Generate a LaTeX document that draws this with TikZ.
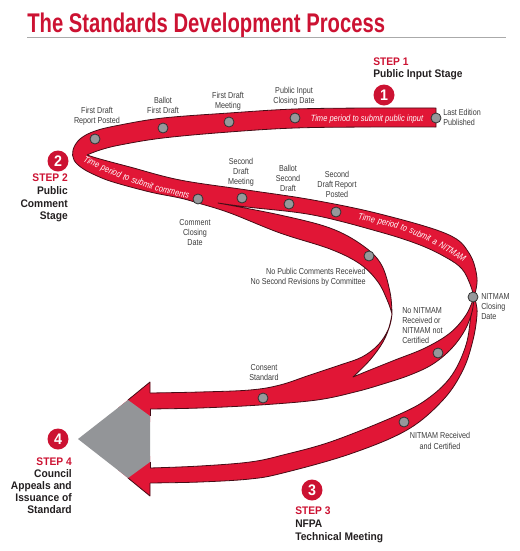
\documentclass[tikz,border=0pt]{standalone}
\usepackage{fontspec}
\setmainfont{Liberation Sans}
\newfontfamily\labfont{Liberation Sans}[FakeStretch=0.83]
\newfontfamily\stepfont{Liberation Sans}[FakeStretch=0.93]
\newfontfamily\titlefont{Liberation Sans}[FakeStretch=0.75]
\definecolor{titlered}{RGB}{204,18,50}
\definecolor{ribred}{RGB}{225,22,54}
\definecolor{ribline}{RGB}{70,12,22}
\definecolor{dotgray}{RGB}{150,152,155}
\definecolor{dotline}{RGB}{50,50,50}
\definecolor{trigray}{RGB}{147,149,152}
\definecolor{labtext}{RGB}{60,60,60}
\definecolor{steptext}{RGB}{35,31,32}
\definecolor{rulegray}{RGB}{170,170,170}
\newcommand\rtfont{\labfont\itshape\fontsize{6.8}{8}\selectfont}
\begin{document}
\begin{tikzpicture}[x=0.75pt,y=0.75pt,
  rib/.style={fill=ribred, draw=ribline, line width=0.6pt, line join=round},
  arrline/.style={draw=ribline, line width=0.6pt, line join=round},
  dot/.style={circle, fill=dotgray, draw=dotline, line width=0.6pt, minimum size=7.5pt, inner sep=0pt},
  lab/.style={font=\labfont\fontsize{6.5}{7.5}\selectfont, text=labtext, inner sep=0pt, align=center},
  steptxt/.style={font=\stepfont\bfseries\fontsize{8.25}{9.2}\selectfont, text=steptext, inner sep=0pt},
  numc/.style={circle, fill=titlered, text=white, minimum size=15.75pt, inner sep=0pt, font=\stepfont\bfseries\fontsize{11.5}{12}\selectfont},
  rtext/.style={font=\rtfont, text=white, inner sep=0pt, anchor=base}
]
\useasboundingbox (0,0) rectangle (519,-551);

% title and rule
\node[anchor=base west, inner sep=0pt, font=\titlefont\bfseries\fontsize{20.25}{24}\selectfont, text=titlered] (title) at (27,-32) {The Standards Development Process};
\coordinate (ruleL) at (27,-37);
\coordinate (ruleR) at (506,-37);
\draw[rulegray, line width=0.75pt] (ruleL) -- (ruleR);

% ribbon E (to Technical Meeting arrow)
\path[rib] plot[smooth, tension=0.6] coordinates {(474,-297) (471,-315) (466,-345) (452,-375) (430,-397) (400,-414) (333,-441) (283,-455) (250,-462) (200,-466) (150,-468) (140,-468)}
 -- (140,-483)
 -- plot[smooth, tension=0.6] coordinates {(140,-483) (150,-483) (200,-482) (250,-479) (283,-473) (350,-454) (407,-430) (443,-400) (463,-370) (473,-340) (477,-315) (476,-303) (474,-297)}
 -- cycle;

% ribbon D + tail of C (to consent arrow)
\path[rib] plot[smooth, tension=0.6] coordinates {(474,-297) (466,-315) (450,-333) (425,-348) (395,-360) (370,-370) (353,-377)}
 -- plot[smooth, tension=0.6] coordinates {(353,-377) (370,-360) (383,-342) (390,-325) (392,-314)}
 -- plot[smooth, tension=0.6] coordinates {(392,-314) (388,-330) (378,-345) (362,-357) (340,-365) (310,-375) (280,-385) (250,-390) (200,-392) (150,-393) (140,-393)}
 -- (140,-409)
 -- plot[smooth, tension=0.6] coordinates {(140,-409) (150,-409) (200,-408) (260,-405) (317,-400) (355,-392) (383,-384) (410,-375) (433,-364) (452,-348) (465,-330) (472,-312) (474,-297)}
 -- cycle;

% main ribbon: public input, loop, comments, branches
\path[rib] plot[smooth, tension=0.6] coordinates {(436,-108) (370,-108) (295,-109) (229,-113) (163,-118) (120,-125) (95,-131) (80,-139) (73,-150) (74,-160) (82,-168) (95,-175) (113,-182) (150,-192) (180,-198) (198,-203) (230,-213) (280,-233) (330,-249) (360,-264) (378,-282) (388,-302) (392,-314)}
 -- plot[smooth, tension=0.6] coordinates {(392,-314) (390,-292) (381,-264) (362,-245) (330,-228) (280,-215) (218,-203)}
 -- plot[smooth, tension=0.6] coordinates {(218,-203) (247,-207) (313,-215) (380,-232) (420,-245) (447,-258) (462,-269) (470,-284) (474,-297)}
 -- plot[smooth, tension=0.6] coordinates {(474,-297) (477,-278) (469,-253) (447,-234) (380,-214) (313,-200) (247,-190) (180,-180) (130,-167) (100,-159) (87,-155)}
 -- plot[smooth, tension=0.6] coordinates {(87,-155) (100,-150) (120,-145) (163,-138) (229,-132) (295,-128) (370,-127) (436,-127)}
 -- cycle;

% arrowheads and grey tip
\fill[ribred] (150,-382) -- (118,-408) -- (150,-422) -- cycle;
\draw[arrline] (150,-393) -- (150,-382) -- (128,-400);
\draw[arrline] (150,-409) -- (150,-416);
\fill[ribred] (150,-456) -- (118,-470) -- (150,-496) -- cycle;
\draw[arrline] (150,-483) -- (150,-496) -- (128,-478);
\draw[arrline] (150,-462) -- (150,-468);
\fill[trigray] (78,-439) -- (128,-400) -- (150,-416) -- (150,-462) -- (128,-478) -- cycle;

% texts on ribbons
\node[rtext] (tp1) at (367,-121) {Time period to submit public input};
\node[rtext, rotate=-26.8] (c1) at (90.35,-164.85) {Time};
\node[rtext, rotate=-23.4] (c2) at (110,-173.95) {period};
\node[rtext, rotate=-20.85] (c3) at (125.4,-180.2) {to};
\node[rtext, rotate=-18.2] (c4) at (141.6,-185.9) {submit};
\node[rtext, rotate=-13.45] (c5) at (171.55,-194.35) {comments};
\node[rtext, rotate=-10] (t1) at (366.2,-221.3) {Time};
\node[rtext, rotate=-15.35] (t2) at (387.4,-226.05) {period};
\node[rtext, rotate=-19.4] (t3) at (403.2,-231) {to};
\node[rtext, rotate=-23.6] (t4) at (419.15,-237.25) {submit};
\node[rtext, rotate=-27.5] (t5) at (433.65,-244.2) {a};
\node[rtext, rotate=-32.4] (t6) at (450.9,-254.15) {NITMAM};

% milestone dots
\node[dot] (d1) at (95,-139) {};
\node[dot] (d2) at (163,-128) {};
\node[dot] (d3) at (229,-122) {};
\node[dot] (d4) at (295,-118) {};
\node[dot] (d5) at (436,-118) {};
\node[dot] (d6) at (198,-199) {};
\node[dot] (d7) at (242,-198) {};
\node[dot] (d8) at (289,-204) {};
\node[dot] (d9) at (336,-212) {};
\node[dot] (d10) at (369,-256) {};
\node[dot] (d11) at (473,-297) {};
\node[dot] (d12) at (438,-353) {};
\node[dot] (d13) at (263,-398) {};
\node[dot] (d14) at (404,-422) {};

% milestone labels
\node[lab, anchor=north] (l1) at (97,-106.5) {First Draft\\Report Posted};
\node[lab, anchor=north] (l2) at (163,-97) {Ballot\\First Draft};
\node[lab, anchor=north] (l3) at (228,-92) {First Draft\\Meeting};
\node[lab, anchor=north] (l4) at (294,-87) {Public Input\\Closing Date};
\node[lab, anchor=north west, align=left] (l5) at (443,-109) {Last Edition\\Published};
\node[lab, anchor=north] (l6) at (195,-219) {Comment\\Closing\\Date};
\node[lab, anchor=north] (l7) at (241,-158) {Second\\Draft\\Meeting};
\node[lab, anchor=north] (l8) at (288,-165) {Ballot\\Second\\Draft};
\node[lab, anchor=north] (l9) at (337,-171) {Second\\Draft Report\\Posted};
\node[lab, anchor=north east, align=right] (l10) at (366,-268) {No Public Comments Received\\No Second Revisions by Committee};
\node[lab, anchor=north west, align=left] (l11) at (481,-293) {NITMAM\\Closing\\Date};
\node[lab, anchor=north west, align=left] (l12) at (402,-307) {No NITMAM\\Received or\\NITMAM not\\Certified};
\node[lab, anchor=north] (l13) at (264,-364) {Consent\\Standard};
\node[lab, anchor=north, font=\labfont\fontsize{6.5}{8.2}\selectfont] (l14) at (440,-432) {NITMAM Received\\and Certified};

% step markers
\node[numc] (n1) at (384,-95) {1};
\node[numc] (n2) at (58,-161) {2};
\node[numc] (n3) at (312,-490) {3};
\node[numc] (n4) at (58,-439) {4};
\node[steptxt, anchor=north west, align=left, font=\stepfont\bfseries\fontsize{8.25}{8.6}\selectfont] (s1) at (373,-58) {\textcolor{titlered}{STEP 1}\\Public Input Stage};
\node[steptxt, anchor=north east, align=right, font=\stepfont\bfseries\fontsize{8.25}{9.4}\selectfont] (s2) at (68,-174) {\textcolor{titlered}{STEP 2}\\Public\\Comment\\Stage};
\node[steptxt, anchor=north west, align=left, font=\stepfont\bfseries\fontsize{8.25}{9.4}\selectfont] (s3) at (295,-507) {\textcolor{titlered}{STEP 3}\\NFPA\\Technical Meeting};
\node[steptxt, anchor=north east, align=right, font=\stepfont\bfseries\fontsize{8.25}{9}\selectfont] (s4) at (72,-458) {\textcolor{titlered}{STEP 4}\\Council\\Appeals and\\Issuance of\\Standard};
\end{tikzpicture}
\end{document}
